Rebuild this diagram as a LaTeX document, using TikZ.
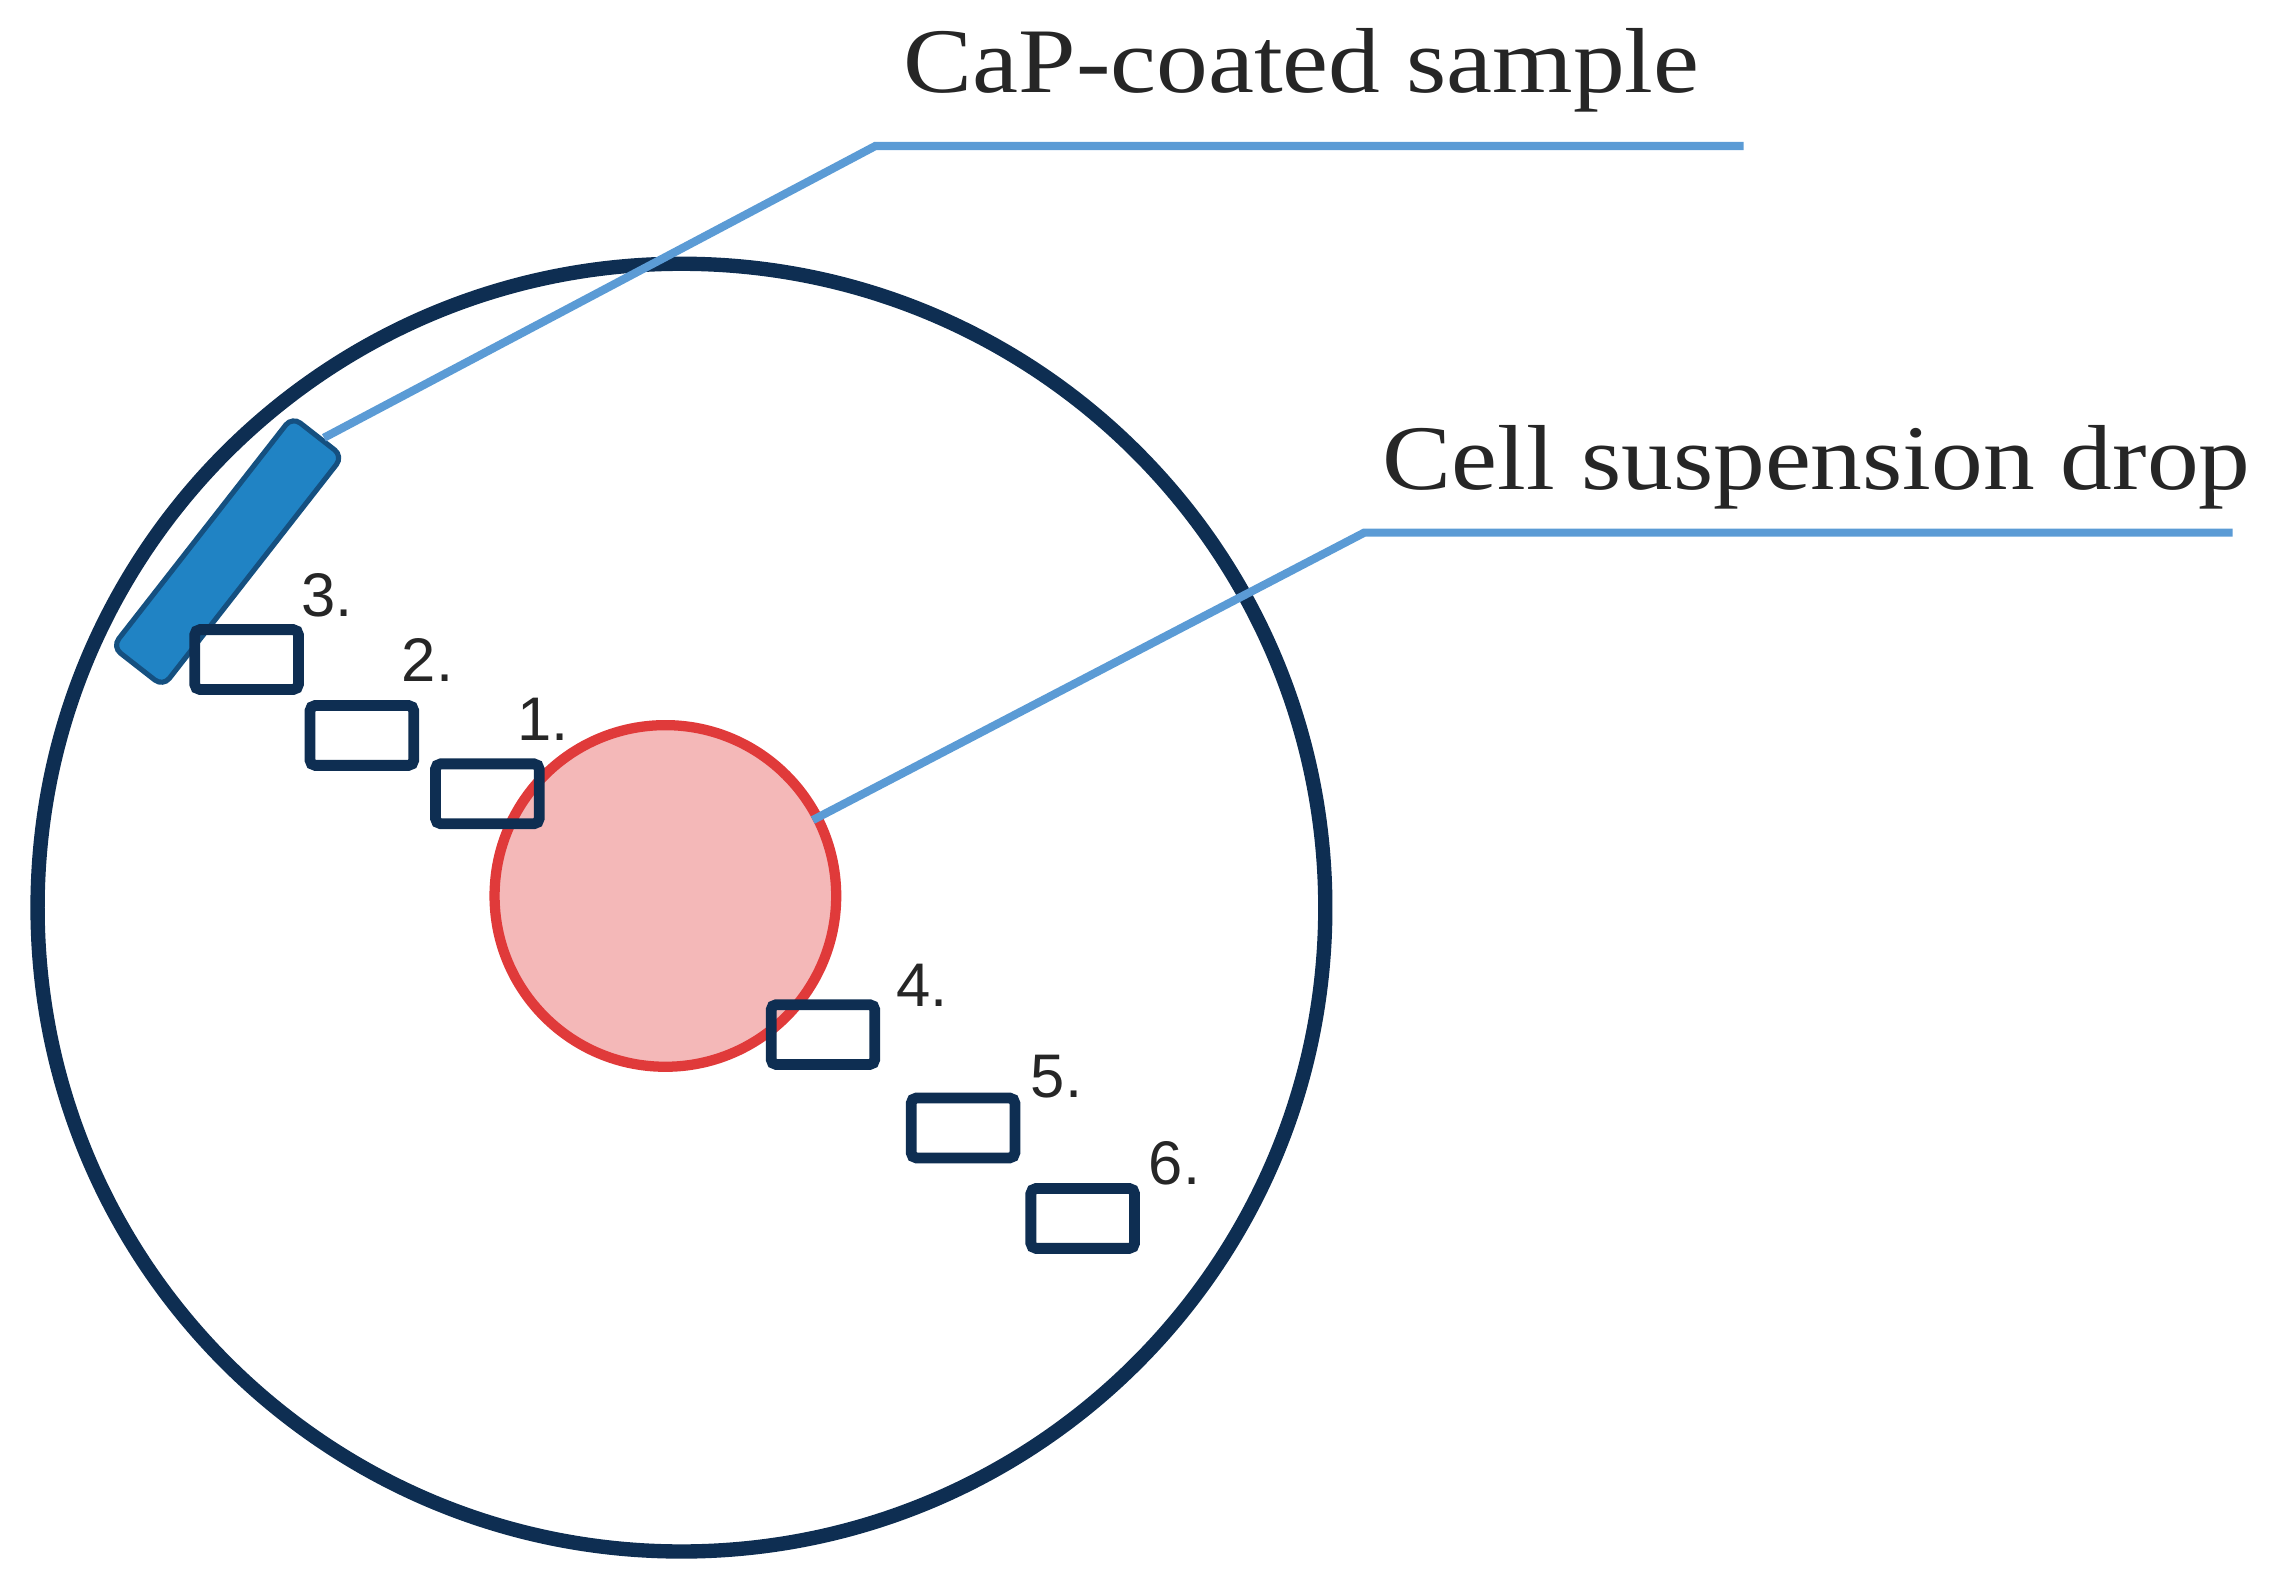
\documentclass[tikz,border=0pt]{standalone}
\usepackage{fontspec}
\setmainfont{Liberation Serif}
\newfontfamily\numfont{Liberation Sans}
\begin{document}
\begin{tikzpicture}[x=0.01cm,y=-0.01cm,
  well/.style={draw=dishblue,line width=2.1pt,rounded corners=1pt,minimum width=0.71cm,minimum height=0.41cm,inner sep=0pt},
  num/.style={font=\numfont\fontsize{12}{13}\selectfont,text=black!85,inner sep=0pt},
  lead/.style={draw=leadblue,line width=1.6pt},
  lab/.style={font=\fontsize{18}{20}\selectfont,text=black!85,inner sep=0pt,xscale=1.12}]
\definecolor{dishblue}{HTML}{0E2E52}
\definecolor{leadblue}{HTML}{5B9BD5}
\definecolor{sampleblue}{HTML}{2083C4}
\definecolor{dropred}{HTML}{E03A3A}
\definecolor{droppink}{HTML}{F4B8B8}
\useasboundingbox (0,0) rectangle (1568,1090);
\node[circle,draw=dishblue,line width=2.8pt,minimum size=8.82cm,inner sep=0pt] (dish) at (467,622) {};
\node[circle,draw=dropred,fill=droppink,line width=2pt,minimum size=2.34cm,inner sep=0pt] (drop) at (456,614) {};
\node[draw=dishblue!60!sampleblue,fill=sampleblue,line width=1pt,rounded corners=2pt,minimum width=2.0cm,minimum height=0.44cm,rotate=52,inner sep=0pt] (sample) at (156,378) {};
\node[well] (w3) at (169,452) {};
\node[well] (w2) at (248,504) {};
\node[well] (w1) at (334,544) {};
\node[well] (w4) at (564,709) {};
\node[well] (w5) at (660,773) {};
\node[well] (w6) at (742,835) {};
\node[num] (n3) at (224,408) {3.};
\node[num] (n2) at (293,452) {2.};
\node[num] (n1) at (372,493) {1.};
\node[num] (n4) at (632,675) {4.};
\node[num] (n5) at (724,738) {5.};
\node[num] (n6) at (805,797) {6.};
\coordinate (s0) at (222,300);
\coordinate (s1) at (600,100);
\coordinate (s2) at (1195,100);
\coordinate (d0) at (557,562);
\coordinate (d1) at (935,365);
\coordinate (d2) at (1530,365);
\draw[lead] (s0) -- (s1) -- (s2);
\draw[lead] (d0) -- (d1) -- (d2);
\node[lab] (l1) at (892,48) {CaP-coated sample};
\node[lab] (l2) at (1245,320) {Cell suspension drop};
\end{tikzpicture}
\end{document}
